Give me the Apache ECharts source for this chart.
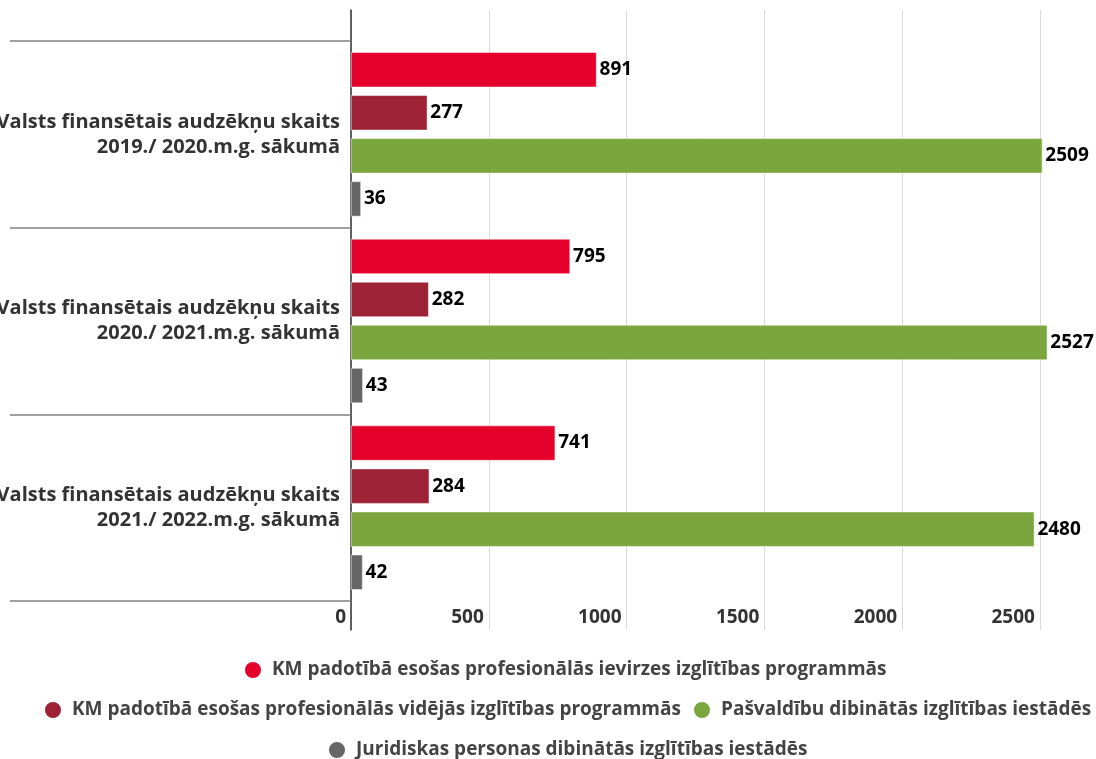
<!DOCTYPE html>
<html>
<head>
<meta charset="utf-8">
<script src="https://cdn.jsdelivr.net/npm/echarts@6/dist/echarts.min.js"></script>
<style>
html,body{margin:0;padding:0;background:#fff;}
#chart{width:1096px;height:759px;}
</style>
</head>
<body>
<div id="chart"></div>
<script>
const categories = [
  "Valsts finansētais audzēkņu skaits\n2019./ 2020.m.g. sākumā",
  "Valsts finansētais audzēkņu skaits\n2020./ 2021.m.g. sākumā",
  "Valsts finansētais audzēkņu skaits\n2021./ 2022.m.g. sākumā"
];
const seriesNames = [
  "KM padotībā esošas profesionālās ievirzes izglītības programmās",
  "KM padotībā esošas profesionālās vidējās izglītības programmās",
  "Pašvaldību dibinātās izglītības iestādēs",
  "Juridiskas personas dibinātās izglītības iestādēs"
];
const ievirzes = [891, 795, 741];
const videjas = [277, 282, 284];
const pasvaldibu = [2509, 2527, 2480];
const juridiskas = [36, 43, 42];
const seriesValues = [ievirzes, videjas, pasvaldibu, juridiskas];
const colors = ["#E4002B", "#9E2236", "#7BA63D", "#666666"];

const FONT = "'Open Sans', sans-serif";
const AXMAX = 2700;

const chart = echarts.init(document.getElementById('chart'), null, {renderer: 'canvas'});

const series = seriesNames.map((name, i) => ({
  name: name,
  type: 'bar',
  xAxisIndex: 1,
  yAxisIndex: 1,
  data: seriesValues[i],
  barWidth: 35,
  barGap: '23%',
  itemStyle: {color: colors[i], borderColor: '#ffffff', borderWidth: 0.5},
  label: {
    show: true,
    position: 'right',
    distance: 3,
    color: '#000',
    fontFamily: FONT,
    fontWeight: 'bold',
    fontSize: 19
  },
  emphasis: {disabled: true}
}));

const legendCommon = {
  icon: 'circle',
  itemWidth: 18,
  itemHeight: 18,
  itemGap: 14,
  padding: 0,
  textStyle: {color: '#444', fontFamily: FONT, fontWeight: 'bold', fontSize: 19, padding: [0, 0, 0, 5]},
  selectedMode: false
};

chart.setOption({
  animation: false,
  color: colors,
  grid: [
    {left: 351, right: 1, top: 10, bottom: 129, containLabel: false, outerBoundsMode: 'none'},
    {left: 351, right: 1, top: 41, bottom: 158, containLabel: false, outerBoundsMode: 'none'}
  ],
  xAxis: [
    {
      gridIndex: 0, type: 'value', min: 0, max: AXMAX, interval: 500,
      axisLine: {show: false}, axisTick: {show: false},
      splitLine: {show: true, showMaxLine: false, lineStyle: {color: '#d9d9d9', width: 1}},
      axisLabel: {
        inside: true, margin: 3, align: 'right', verticalAlign: 'bottom',
        padding: [0, 5, 0, 0], showMaxLabel: false,
        color: '#333', fontFamily: FONT, fontWeight: 'bold', fontSize: 19,
        formatter: v => (v % 500 === 0 ? String(v) : '')
      }
    },
    {
      gridIndex: 1, type: 'value', min: 0, max: AXMAX, show: false
    }
  ],
  yAxis: [
    {
      gridIndex: 0, type: 'value', min: 0, max: 1,
      axisLine: {show: true, lineStyle: {color: '#333', width: 1.5}},
      axisTick: {show: false}, axisLabel: {show: false}, splitLine: {show: false}
    },
    {
      gridIndex: 1, type: 'category', data: categories, inverse: true,
      axisLine: {show: false},
      axisTick: {show: true, length: 341, lineStyle: {color: '#808080', width: 1.5}},
      axisLabel: {
        margin: 11, align: 'right', color: '#333',
        fontFamily: FONT, fontWeight: 'bold', fontSize: 20, lineHeight: 25
      },
      splitLine: {show: false}
    }
  ],
  legend: [
    Object.assign({}, legendCommon, {left: 243, top: 660, data: [seriesNames[0]]}),
    Object.assign({}, legendCommon, {left: 43, top: 700, data: [seriesNames[1]]}),
    Object.assign({}, legendCommon, {left: 692, top: 700, data: [seriesNames[2]]}),
    Object.assign({}, legendCommon, {left: 327, top: 740, data: [seriesNames[3]]})
  ],
  series: series
});
</script>
</body>
</html>
